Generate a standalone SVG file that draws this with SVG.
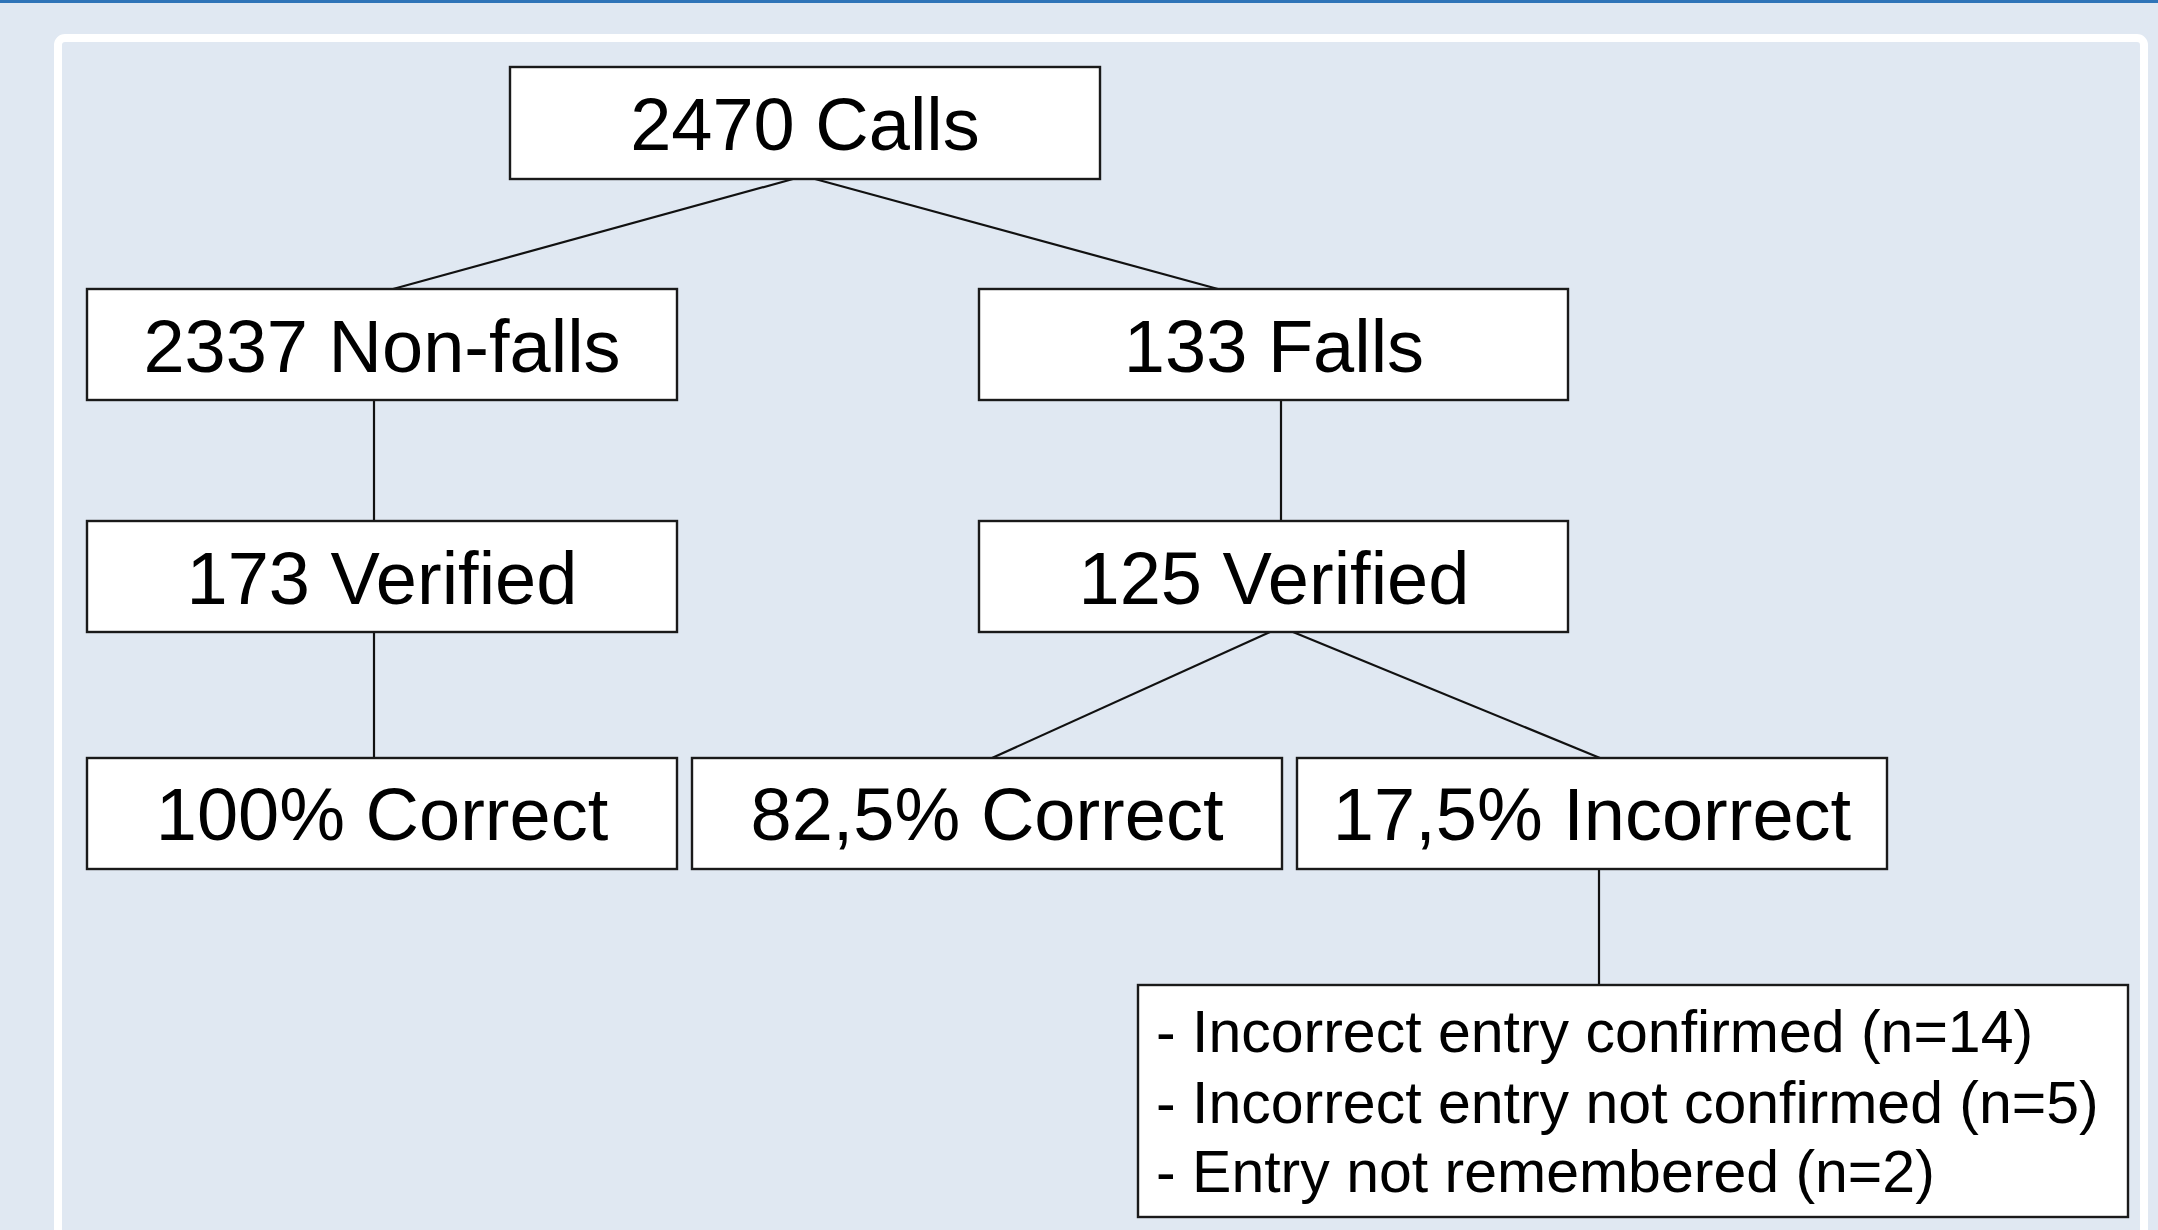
<svg xmlns="http://www.w3.org/2000/svg" width="2158" height="1230" viewBox="0 0 2158 1230">
<style>
.box{fill:#ffffff;stroke:#1a1a1a;stroke-width:2.4}
.lbl{font-family:"Liberation Sans",Arial,sans-serif;font-size:74px;fill:#000;text-anchor:middle}
.lst{font-family:"Liberation Sans",Arial,sans-serif;font-size:59px;fill:#000}
.con{stroke:#111;stroke-width:2.2;fill:none}
</style>
<rect x="0" y="0" width="2158" height="1230" fill="#e0e8f2"/>
<rect x="0" y="0" width="2158" height="3" fill="#2f74b8"/>
<rect x="58" y="38" width="2086" height="1230" rx="7" fill="#e0e8f2" stroke="#ffffff" stroke-width="8"/>
<g id="connectors">
<line class="con" x1="793" y1="179" x2="393" y2="289"/>
<line class="con" x1="815" y1="179" x2="1218" y2="289"/>
<line class="con" x1="374" y1="400" x2="374" y2="521"/>
<line class="con" x1="1281" y1="400" x2="1281" y2="521"/>
<line class="con" x1="374" y1="632" x2="374" y2="758"/>
<line class="con" x1="1270" y1="632" x2="992" y2="758"/>
<line class="con" x1="1293" y1="632" x2="1600" y2="758"/>
<line class="con" x1="1599" y1="869" x2="1599" y2="985"/>
</g>
<g id="calls"><rect class="box" x="510" y="67" width="590" height="112"/><text class="lbl" x="805" y="150">2470 Calls</text></g>
<g id="nonfalls"><rect class="box" x="87" y="289" width="590" height="111"/><text class="lbl" x="382" y="372">2337 Non-falls</text></g>
<g id="falls"><rect class="box" x="979" y="289" width="589" height="111"/><text class="lbl" x="1274" y="372">133 Falls</text></g>
<g id="verified173"><rect class="box" x="87" y="521" width="590" height="111"/><text class="lbl" x="382" y="604">173 Verified</text></g>
<g id="verified125"><rect class="box" x="979" y="521" width="589" height="111"/><text class="lbl" x="1274" y="604">125 Verified</text></g>
<g id="correct100"><rect class="box" x="87" y="758" width="590" height="111"/><text class="lbl" x="382" y="840">100% Correct</text></g>
<g id="correct825"><rect class="box" x="692" y="758" width="590" height="111"/><text class="lbl" x="987" y="840">82,5% Correct</text></g>
<g id="incorrect175"><rect class="box" x="1297" y="758" width="590" height="111"/><text class="lbl" x="1592" y="840">17,5% Incorrect</text></g>
<g id="details"><rect class="box" x="1138" y="985" width="990" height="232"/>
<text class="lst" x="1156" y="1052">- Incorrect entry confirmed (n=14)</text>
<text class="lst" x="1156" y="1123">- Incorrect entry not confirmed (n=5)</text>
<text class="lst" x="1156" y="1192">- Entry not remembered (n=2)</text>
</g>
</svg>
